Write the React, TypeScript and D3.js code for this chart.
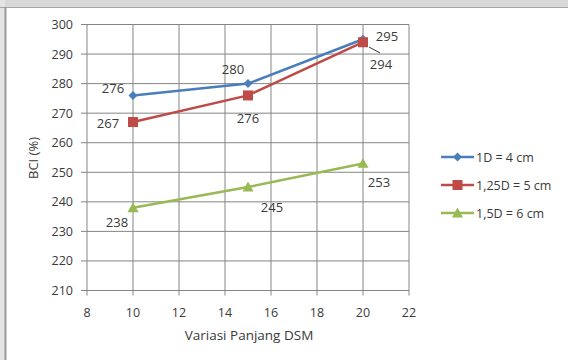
import React from "react";
import * as d3 from "d3";

// Panjang DSM (cm) on the x axis
const panjang = [10, 15, 20];
// BCI (%) for each configuration
const bci1D = [276, 280, 295];
const bci125D = [267, 276, 294];
const bci15D = [238, 245, 253];
const seriesNames = ["1D = 4 cm", "1,25D = 5 cm", "1,5D = 6 cm"];
const xTicks = [8, 10, 12, 14, 16, 18, 20, 22];
const yTicks = [210, 220, 230, 240, 250, 260, 270, 280, 290, 300];

const W = 568;
const H = 360;
const FONT = "'Open Sans', 'Liberation Sans', sans-serif";
const TEXT = "#3a3a3a";

const colors = ["#4a7ebb", "#be4b48", "#98b954"];
// label offsets (dx, dy) per series and point
const labelOffsets = [
  [[-20, -7], [-15, -15], [24, -3]],
  [[-25, 1], [0, 23], [18, 22]],
  [[-16, 14], [24, 20], [16, 19]],
];

function Marker({ kind, x, y, color }: { kind: number; x: number; y: number; color: string }) {
  if (kind === 0) {
    const s = 4.5;
    return <path d={`M${x},${y - s}L${x + s},${y}L${x},${y + s}L${x - s},${y}Z`} fill={color} />;
  }
  if (kind === 1) {
    return <rect x={x - 5} y={y - 5} width={10} height={10} fill={color} />;
  }
  const s = 5.5;
  return <path d={`M${x},${y - s}L${x + s},${y + s * 0.8}L${x - s},${y + s * 0.8}Z`} fill={color} />;
}

export default function App() {
  const x = d3.scaleLinear().domain([8, 22]).range([87, 409]);
  const y = d3.scaleLinear().domain([210, 300]).range([290.5, 24.5]);
  const series = [bci1D, bci125D, bci15D];
  const line = d3
    .line<[number, number]>()
    .x((d) => x(d[0]))
    .y((d) => y(d[1]));

  const legendY = [157, 185, 213];

  return (
    <div style={{ position: "fixed", left: 0, top: 0, width: W, height: H, overflow: "hidden" }}>
      <svg width={W} height={H} style={{ display: "block", fontFamily: FONT }}>
        <rect x={0} y={0} width={W} height={H} fill="#ffffff" />
        {/* page strip above and beside the chart frame */}
        <rect x={0} y={0} width={W} height={7} fill="#d9d9d9" />
        <rect x={0} y={0} width={5} height={H} fill="#e4e4e4" />
        <line x1={0} x2={W} y1={7.5} y2={7.5} stroke="#a6a6a6" strokeWidth={1} />
        <line x1={5.5} x2={5.5} y1={7} y2={H} stroke="#9a9a9a" strokeWidth={2} />

        {/* grid */}
        {yTicks.map((t) => (
          <line key={"gy" + t} x1={81} x2={409} y1={y(t)} y2={y(t)} stroke="#858585" strokeWidth={1} />
        ))}
        {xTicks.map((t) => (
          <line key={"gx" + t} x1={x(t)} x2={x(t)} y1={y(300)} y2={y(210) + 5} stroke="#858585" strokeWidth={1} />
        ))}

        {/* tick labels */}
        {yTicks.map((t) => (
          <text key={"ty" + t} x={73} y={y(t)} dominantBaseline="central" textAnchor="end" fontSize={12.5} fill={TEXT}>
            {t}
          </text>
        ))}
        {xTicks.map((t) => (
          <text key={"tx" + t} x={x(t)} y={312} dominantBaseline="central" textAnchor="middle" fontSize={12.5} fill={TEXT}>
            {t}
          </text>
        ))}

        {/* axis titles */}
        <text x={249} y={335} textAnchor="middle" dominantBaseline="central" fontSize={13.5} fill={TEXT}>
          Variasi Panjang DSM
        </text>
        <text
          transform={`translate(33,158) rotate(-90)`}
          textAnchor="middle"
          dominantBaseline="central"
          fontSize={13}
          fill={TEXT}
        >
          BCI (%)
        </text>

        {/* series */}
        {series.map((vals, i) => {
          const pts = panjang.map((p, j) => [p, vals[j]] as [number, number]);
          return (
            <g key={"s" + i}>
              <path d={line(pts) || ""} fill="none" stroke={colors[i]} strokeWidth={2.5} />
              {pts.map((d, j) => (
                <Marker key={j} kind={i} x={x(d[0])} y={y(d[1])} color={colors[i]} />
              ))}
            </g>
          );
        })}

        {/* leader line for the 294 label */}
        <line x1={369} x2={380} y1={47} y2={53} stroke="#333" strokeWidth={1} />

        {/* data labels */}
        {series.map((vals, i) =>
          panjang.map((p, j) => (
            <text
              key={`l${i}-${j}`}
              x={x(p) + labelOffsets[i][j][0]}
              y={y(vals[j]) + labelOffsets[i][j][1]}
              textAnchor="middle"
              dominantBaseline="central"
              fontSize={13}
              fill={TEXT}
            >
              {vals[j]}
            </text>
          ))
        )}

        {/* legend */}
        {seriesNames.map((name, i) => (
          <g key={"lg" + i}>
            <line x1={441} x2={474} y1={legendY[i]} y2={legendY[i]} stroke={colors[i]} strokeWidth={2.5} />
            <Marker kind={i} x={457.5} y={legendY[i]} color={colors[i]} />
            <text x={476} y={legendY[i]} dominantBaseline="central" fontSize={12.5} fill={TEXT}>
              {name}
            </text>
          </g>
        ))}
      </svg>
    </div>
  );
}
